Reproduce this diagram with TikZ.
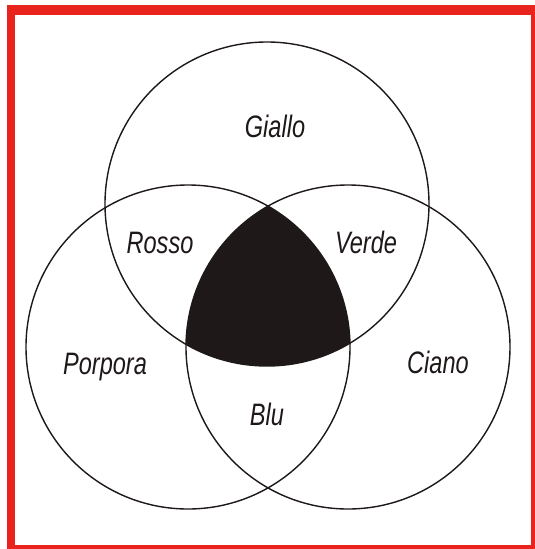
\documentclass[tikz,border=0pt]{standalone}
\usepackage{fontspec}
\setmainfont{Liberation Sans}
\definecolor{frame}{RGB}{232,36,28}
\definecolor{ink}{RGB}{30,24,24}
\begin{document}
\begin{tikzpicture}[x=1pt,y=-1pt,
  ring/.style={draw=ink,line width=1.4pt},
  lbl/.style={font=\fontsize{31}{31}\selectfont\itshape,text=ink,anchor=base,inner sep=0pt,xscale=0.76}]
\useasboundingbox (0,0) rectangle (535,549);
\fill[frame] (7,5) rectangle (535,549);
\fill[white] (15,15) rectangle (531,545);
\coordinate (ct) at (267,204);
\coordinate (cl) at (188,347);
\coordinate (cr) at (348,347);
\begin{scope}
  \clip (ct) circle[radius=162pt];
  \clip (cl) circle[radius=162pt];
  \fill[ink] (cr) circle[radius=162pt];
\end{scope}
\draw[ring] (ct) circle[radius=162pt];
\draw[ring] (cl) circle[radius=162pt];
\draw[ring] (cr) circle[radius=162pt];
\node[lbl] (giallo) at (275,137) {Giallo};
\node[lbl] (rosso) at (160,253) {Rosso};
\node[lbl] (verde) at (366,253) {Verde};
\node[lbl] (porpora) at (105,374) {Porpora};
\node[lbl] (ciano) at (438,373) {Ciano};
\node[lbl] (blu) at (267,425) {Blu};
\end{tikzpicture}
\end{document}
